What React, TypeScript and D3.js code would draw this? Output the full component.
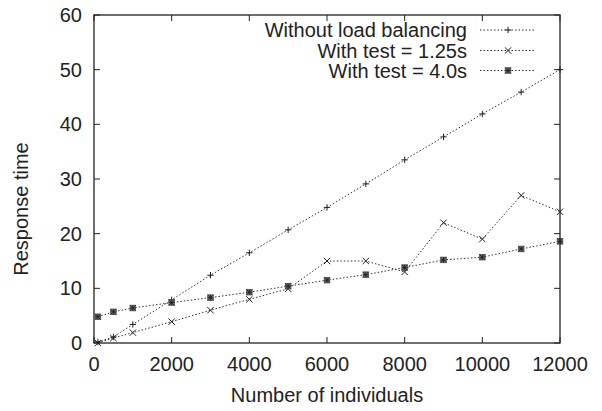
import React from "react";
import * as d3 from "d3";

const xValues = [100, 500, 1000, 2000, 3000, 4000, 5000, 6000, 7000, 8000, 9000, 10000, 11000, 12000];
const withoutLB = [0.2, 1.1, 3.4, 7.9, 12.4, 16.5, 20.7, 24.8, 29.1, 33.5, 37.7, 41.9, 45.9, 50.0];
const test125 = [0.0, 0.9, 1.9, 3.9, 6.0, 8.0, 9.9, 15.0, 15.0, 13.0, 22.0, 19.0, 27.0, 24.0];
const test40 = [4.8, 5.7, 6.4, 7.4, 8.3, 9.3, 10.4, 11.5, 12.5, 13.8, 15.2, 15.7, 17.2, 18.6];
const seriesNames = ["Without load balancing", "With test = 1.25s", "With test = 4.0s"];
const xTicks = [0, 2000, 4000, 6000, 8000, 10000, 12000];
const yTicks = [0, 10, 20, 30, 40, 50, 60];

const W = 602, H = 411;
const L = 94, R = 560, T = 15, B = 343;
const FONT = "'Liberation Sans', Arial, Helvetica, sans-serif";
const FS = 20;
const INK = "#222";

function Marker({ type, x, y }: { type: number; x: number; y: number }) {
  const s = 3.2;
  const sw = 1;
  if (type === 0) {
    return (
      <g stroke={INK} strokeWidth={sw}>
        <line x1={x - s} x2={x + s} y1={y} y2={y} />
        <line x1={x} x2={x} y1={y - s} y2={y + s} />
      </g>
    );
  }
  if (type === 1) {
    return (
      <g stroke={INK} strokeWidth={sw}>
        <line x1={x - s} x2={x + s} y1={y - s} y2={y + s} />
        <line x1={x - s} x2={x + s} y1={y + s} y2={y - s} />
      </g>
    );
  }
  const q = 2.8;
  return (
    <g stroke={INK} strokeWidth={0.9}>
      <rect x={x - q} y={y - q} width={2 * q} height={2 * q} fill="#777" stroke="#555" strokeWidth={0.8} />
      <line x1={x - q} x2={x + q} y1={y - q} y2={y + q} />
      <line x1={x - q} x2={x + q} y1={y + q} y2={y - q} />
      <line x1={x - q} x2={x + q} y1={y} y2={y} />
      <line x1={x} x2={x} y1={y - q} y2={y + q} />
    </g>
  );
}

export default function App() {
  const x = d3.scaleLinear().domain([0, 12000]).range([L, R]);
  const y = d3.scaleLinear().domain([0, 60]).range([B, T]);
  const all = [withoutLB, test125, test40];
  const line = d3
    .line<[number, number]>()
    .x((d) => x(d[0]))
    .y((d) => y(d[1]));
  const tick = 6;
  const legendTextX = 467;
  const legendRows = [30, 50.5, 70.5];
  return (
    <svg
      width={W}
      height={H}
      style={{ position: "absolute", left: 0, top: 0, background: "#fff" }}
      fontFamily={FONT}
    >
      <rect x={0} y={0} width={W} height={H} fill="#fff" />
      <g stroke={INK} strokeWidth={1}>
        {xTicks.map((t) => (
          <g key={"xt" + t}>
            <line x1={x(t)} x2={x(t)} y1={B} y2={B - tick} />
            <line x1={x(t)} x2={x(t)} y1={T} y2={T + tick} />
          </g>
        ))}
        {yTicks.map((t) => (
          <g key={"yt" + t}>
            <line x1={L} x2={L + tick} y1={y(t)} y2={y(t)} />
            <line x1={R} x2={R - tick} y1={y(t)} y2={y(t)} />
          </g>
        ))}
      </g>
      {all.map((vals, si) => {
        const pts: [number, number][] = xValues.map((xv, i) => [xv, vals[i]]);
        return (
          <g key={"s" + si}>
            <path d={line(pts) || ""} fill="none" stroke="#333" strokeWidth={1} strokeDasharray="1.5,2" />
            {pts.map((p, i) => (
              <Marker key={i} type={si} x={x(p[0])} y={y(p[1])} />
            ))}
          </g>
        );
      })}
      <rect x={L} y={T} width={R - L} height={B - T} fill="none" stroke={INK} strokeWidth={1.3} />
      <g fill={INK} fontSize={FS}>
        {xTicks.map((t) => (
          <text key={"xl" + t} x={x(t)} y={371} textAnchor="middle">
            {t}
          </text>
        ))}
        {yTicks.map((t) => (
          <text key={"yl" + t} x={82} y={y(t) + 7} textAnchor="end">
            {t}
          </text>
        ))}
      </g>
      <text x={(L + R) / 2} y={402} textAnchor="middle" fontSize={FS} fill={INK}>
        Number of individuals
      </text>
      <text
        transform={`translate(28, ${(T + B) / 2 + 30}) rotate(-90)`}
        textAnchor="middle"
        fontSize={FS}
        fill={INK}
      >
        Response time
      </text>
      {seriesNames.map((name, i) => (
        <g key={"lg" + i}>
          <text x={legendTextX} y={legendRows[i] + 7} textAnchor="end" fontSize={FS} fill={INK}>
            {name}
          </text>
          <line x1={480} x2={536} y1={legendRows[i]} y2={legendRows[i]} stroke="#333" strokeWidth={1} strokeDasharray="1.5,2" />
          <Marker type={i} x={508} y={legendRows[i]} />
        </g>
      ))}
    </svg>
  );
}
